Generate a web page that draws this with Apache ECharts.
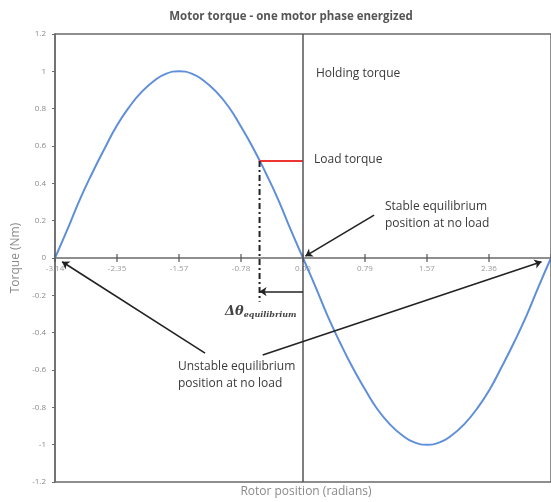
<!DOCTYPE html>
<html><head><meta charset="utf-8">
<script src="https://cdn.jsdelivr.net/npm/echarts@6/dist/echarts.min.js"></script>
<style>html,body{margin:0;padding:0;background:#fff}#c{width:551px;height:502px}</style>
</head><body><div id="c"></div>
<script>
// Rotor position (rad) and motor torque (Nm)
const theta = [-3.14,-2.98,-2.83,-2.67,-2.51,-2.36,-2.20,-2.04,-1.88,-1.73,-1.57,-1.41,-1.26,-1.10,-0.94,-0.79,-0.63,-0.47,-0.31,-0.16,0,
               0.16,0.31,0.47,0.63,0.79,0.94,1.10,1.26,1.41,1.57,1.73,1.88,2.04,2.20,2.36,2.51,2.67,2.83,2.98,3.14];
const torque = [0,0.156,0.309,0.454,0.588,0.707,0.809,0.891,0.951,0.988,1,0.988,0.951,0.891,0.809,0.707,0.588,0.454,0.309,0.156,0,
                -0.156,-0.309,-0.454,-0.588,-0.707,-0.809,-0.891,-0.951,-0.988,-1,-0.988,-0.951,-0.891,-0.809,-0.707,-0.588,-0.454,-0.309,-0.156,0];
const xTickValues = [-3.14,-2.355,-1.57,-0.785,0,0.785,1.57,2.355,3.14];
const xTickLabels = ['-3.14','-2.35','-1.57','-0.78','0.00','0.79','1.57','2.36','3.14'];
const yTickLabels = ['-1.2','-1','-0.8','-0.6','-0.4','-0.2','0','0.2','0.4','0.6','0.8','1','1.2'];
// annotation geometry (data coordinates)
const loadTorque = 0.52;
const equilibriumTheta = -0.55;
const dashBottom = -0.235;
const deltaArrowY = -0.18;
const arrows = [
  [[0.90,0.23],[0.03,0.01]],
  [[-1.24,-0.51],[-3.05,-0.02]],
  [[-0.51,-0.52],[3.02,-0.02]],
  [[0,deltaArrowY],[equilibriumTheta,deltaArrowY]]
];

const chart = echarts.init(document.getElementById('c'));
const txt = '#3a3a3a';
const font = "'Open Sans', 'Noto Sans', sans-serif";
chart.setOption({
  animation:false,
  grid:{left:55,top:34,right:-6,bottom:20,show:true,borderColor:'#6a6a6a',borderWidth:1.5},
  xAxis:{type:'value',min:-3.14,max:3.14,interval:0.785,position:'bottom',offset:-224,
    axisLine:{onZero:false,lineStyle:{color:'#6a6a6a',width:1.5}},
    axisTick:{show:false},
    splitLine:{show:false},
    axisLabel:{margin:7,fontSize:8,color:'#9a9a9a',fontFamily:font,showMaxLabel:false,
      formatter:v=>xTickLabels[Math.round((v+3.14)/0.785)]}
  },
  yAxis:{type:'value',min:-1.2,max:1.2,interval:0.2,
    name:'Torque (Nm)',nameLocation:'middle',nameGap:29,
    nameTextStyle:{fontSize:12,color:'#8a8a8a',fontFamily:font},
    axisLine:{onZero:false,lineStyle:{color:'#6a6a6a',width:1.5}},
    axisTick:{show:true,length:3,lineStyle:{color:'#6a6a6a'}},
    splitLine:{show:false},
    axisLabel:{margin:9,fontSize:8,color:'#8a8a8a',fontFamily:font,
      formatter:v=>yTickLabels[Math.round((v+1.2)/0.2)]}
  },
  series:[
    {type:'line',data:theta.map((t,i)=>[t,torque[i]]),smooth:true,showSymbol:false,
      lineStyle:{color:'#5f8fd9',width:2},
      markLine:{silent:true,symbol:'none',label:{show:false},
        lineStyle:{color:'#555',width:1.5,type:'solid'},data:[{xAxis:0}]}},
    {type:'scatter',data:xTickValues.map(v=>[v,0]),symbol:'rect',symbolSize:[1.5,8],
      itemStyle:{color:'#555'},silent:true,z:3},
    {type:'line',data:[[equilibriumTheta,loadTorque],[0,loadTorque]],showSymbol:false,
      lineStyle:{color:'#ee3333',width:2},z:4},
    {type:'line',data:[[equilibriumTheta,loadTorque],[equilibriumTheta,dashBottom]],showSymbol:false,
      lineStyle:{color:'#222',width:2,type:[6,3,2,3]},z:4},
    {type:'lines',coordinateSystem:'cartesian2d',symbol:['none','arrow'],symbolSize:7,
      lineStyle:{color:'#222',width:1.6,opacity:1},
      data:arrows.map(a=>({coords:a})),z:5}
  ],
  graphic:[
    {type:'text',x:291,y:17,style:{text:'Motor torque - one motor phase energized',fill:'#555',
      font:"bold 11.5px "+font,textAlign:'center',textVerticalAlign:'middle'}},
    {type:'text',x:306,y:492,style:{text:'Rotor position (radians)',fill:'#8a8a8a',
      font:"12px "+font,textAlign:'center',textVerticalAlign:'middle'}},
    {type:'text',x:316,y:74,style:{text:'Holding torque',fill:txt,font:"12px "+font,textVerticalAlign:'middle'}},
    {type:'text',x:314,y:160,style:{text:'Load torque',fill:txt,font:"12px "+font,textVerticalAlign:'middle'}},
    {type:'text',x:385,y:198,style:{text:'Stable equilibrium\nposition at no load',fill:txt,font:"12px "+font,lineHeight:17}},
    {type:'text',x:178,y:358,style:{text:'Unstable equilibrium\nposition at no load',fill:txt,font:"12px "+font,lineHeight:17}},
    {type:'text',x:225,y:312,style:{text:'{a|Δθ}{b|equilibrium}',textVerticalAlign:'middle',
      rich:{a:{font:"italic bold 13px 'DejaVu Serif', serif",fill:'#444'},
            b:{font:"italic bold 8px 'DejaVu Serif', serif",fill:'#444',padding:[6,0,0,0]}}}}
  ]
});
</script></body></html>
